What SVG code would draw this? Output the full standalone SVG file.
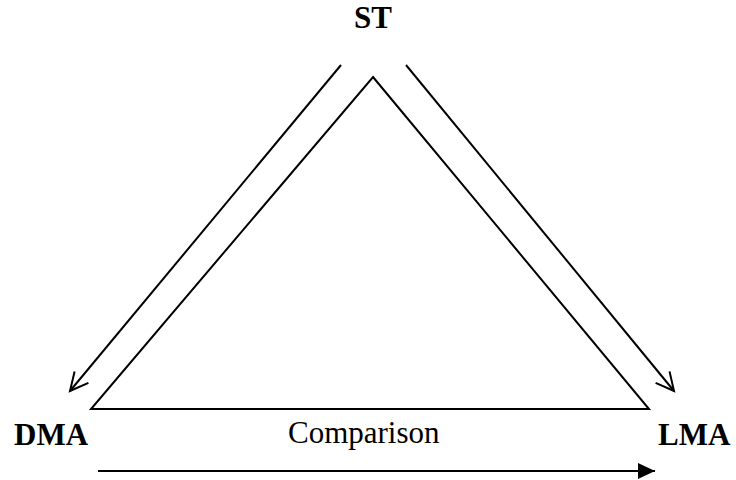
<svg xmlns="http://www.w3.org/2000/svg" width="736" height="480" viewBox="0 0 736 480">
<style>
.ln{stroke:#000;stroke-width:2;fill:none}
.b{font-family:"Liberation Serif","Times New Roman",serif;font-weight:bold;font-size:31px;fill:#000}
.r{font-family:"Liberation Serif","Times New Roman",serif;font-size:31px;fill:#000}
</style>
<defs>
<marker id="open" markerUnits="userSpaceOnUse" markerWidth="30" markerHeight="30" refX="20" refY="10" orient="auto" viewBox="0 0 30 20">
<path d="M2,1 L20,10 L2,19" stroke="#000" stroke-width="2" fill="none"/>
</marker>
<marker id="fill" markerUnits="userSpaceOnUse" markerWidth="18" markerHeight="18" refX="17" refY="8" orient="auto" viewBox="0 0 18 16">
<path d="M0,0 L17,8 L0,16 Z" fill="#000"/>
</marker>
</defs>
<rect width="736" height="480" fill="#fff"/>
<g id="triangle">
<path class="ln" d="M373,77 L649,409 L91,409 Z"/>
</g>
<g id="ST"><text class="b" x="373" y="28" text-anchor="middle">ST</text></g>
<g id="DMA"><text class="b" x="14" y="445">DMA</text></g>
<g id="LMA"><text class="b" x="658" y="445">LMA</text></g>
<g id="Comparison"><text class="r" x="288" y="443">Comparison</text></g>
<g id="connectors">
<line class="ln" x1="341" y1="65" x2="70" y2="391" marker-end="url(#open)"/>
<line class="ln" x1="406" y1="65" x2="674" y2="391" marker-end="url(#open)"/>
<line class="ln" x1="98" y1="471" x2="655" y2="471" marker-end="url(#fill)"/>
</g>
</svg>
